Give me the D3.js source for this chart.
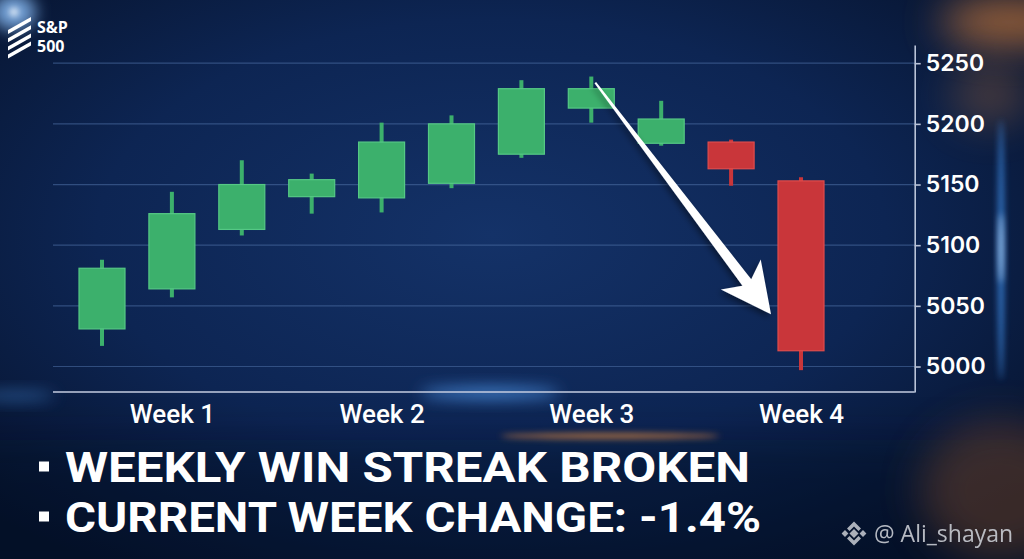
<!DOCTYPE html>
<html>
<head>
<meta charset="utf-8">
<script src="https://cdn.jsdelivr.net/npm/d3@7"></script>
<style>
  html, body { margin: 0; padding: 0; background: #081a3a; overflow: hidden; }
  svg { display: block; }
</style>
</head>
<body>
<svg id="chart"></svg>
<script>
// data
var sessions = [1, 2, 3, 4, 5, 6, 7, 8, 9, 10, 11];
var openVals  = [5031, 5064, 5113, 5140, 5139, 5151, 5175, 5213, 5184, 5185, 5153];
var closeVals = [5081, 5126, 5150, 5154, 5185, 5200, 5229, 5229, 5204, 5163, 5013];
var highVals  = [5088, 5144, 5170, 5159, 5201, 5207, 5236, 5239, 5219, 5187, 5156];
var lowVals   = [5017, 5057, 5108, 5126, 5127, 5147, 5172, 5201, 5182, 5149, 4997];
var weekLabels = ["Week 1", "Week 2", "Week 3", "Week 4"];
var weekSessions = [2, 5, 8, 11];
var yTicks = [5000, 5050, 5100, 5150, 5200, 5250];
var headlines = ["WEEKLY WIN STREAK BROKEN", "CURRENT WEEK CHANGE: -1.4%"];
var arrowFrom = 8;        // session where the arrow starts (its high)
var arrowTipValue = 5043; // price level the arrow points to

var w = 1024, h = 559;
var plotLeft = 53, plotRight = 914.7, plotTop = 45, plotBottom = 392;

var svg = d3.select("#chart").attr("width", w).attr("height", h);
var defs = svg.append("defs");

// background
var bg = defs.append("radialGradient").attr("id", "bg")
    .attr("cx", "48%").attr("cy", "42%").attr("r", "70%");
bg.append("stop").attr("offset", "0%").attr("stop-color", "#143268");
bg.append("stop").attr("offset", "55%").attr("stop-color", "#0d2553");
bg.append("stop").attr("offset", "100%").attr("stop-color", "#06122b");

function blurFilter(id, sd) {
    defs.append("filter").attr("id", id)
        .attr("x", "-150%").attr("y", "-150%").attr("width", "400%").attr("height", "400%")
        .append("feGaussianBlur").attr("stdDeviation", sd);
}
blurFilter("blur3", 3);
blurFilter("blur8", 8);
blurFilter("blur20", 20);
var sh = defs.append("filter").attr("id", "shadow").attr("x", "-20%").attr("y", "-20%").attr("width", "140%").attr("height", "140%");
sh.append("feDropShadow").attr("dx", -2).attr("dy", 3).attr("stdDeviation", 3)
    .attr("flood-color", "#000").attr("flood-opacity", 0.45);

svg.append("rect").attr("width", w).attr("height", h).attr("fill", "url(#bg)");

// darker band under the chart
svg.append("rect").attr("x", -50).attr("y", 440).attr("width", w + 100).attr("height", 160)
    .attr("fill", "#040e24").attr("opacity", 0.35).attr("filter", "url(#blur20)");

// light flares
var glow = svg.append("g");
glow.append("ellipse").attr("cx", 1010).attr("cy", 22).attr("rx", 70).attr("ry", 22)
    .attr("fill", "#d9823c").attr("opacity", 0.75).attr("filter", "url(#blur20)");
glow.append("ellipse").attr("cx", 990).attr("cy", 95).attr("rx", 40).attr("ry", 30)
    .attr("fill", "#b0703e").attr("opacity", 0.35).attr("filter", "url(#blur20)");
glow.append("ellipse").attr("cx", 1000).attr("cy", 490).attr("rx", 80).attr("ry", 70)
    .attr("fill", "#7a4a2a").attr("opacity", 0.45).attr("filter", "url(#blur20)");
glow.append("ellipse").attr("cx", 1001).attr("cy", 250).attr("rx", 3).attr("ry", 130)
    .attr("fill", "#3f8ee8").attr("opacity", 0.8).attr("filter", "url(#blur3)");
glow.append("ellipse").attr("cx", 1001).attr("cy", 248).attr("rx", 2).attr("ry", 35)
    .attr("fill", "#bfe0ff").attr("opacity", 0.9).attr("filter", "url(#blur3)");
glow.append("ellipse").attr("cx", 14).attr("cy", 12).attr("rx", 22).attr("ry", 18)
    .attr("fill", "#8fc4ff").attr("opacity", 0.8).attr("filter", "url(#blur8)");
glow.append("ellipse").attr("cx", 14).attr("cy", 12).attr("rx", 4).attr("ry", 4)
    .attr("fill", "#ffffff").attr("opacity", 0.9).attr("filter", "url(#blur3)");
glow.append("ellipse").attr("cx", 490).attr("cy", 393).attr("rx", 70).attr("ry", 5)
    .attr("fill", "#5aa8ff").attr("opacity", 0.85).attr("filter", "url(#blur8)");
glow.append("ellipse").attr("cx", 610).attr("cy", 436).attr("rx", 110).attr("ry", 3)
    .attr("fill", "#e08a3c").attr("opacity", 0.7).attr("filter", "url(#blur3)");
glow.append("ellipse").attr("cx", 15).attr("cy", 396).attr("rx", 40).attr("ry", 4)
    .attr("fill", "#4a90e0").attr("opacity", 0.6).attr("filter", "url(#blur8)");

// scales
var x = d3.scalePoint().domain(sessions).range([102, 801]);
var y = d3.scaleLinear().domain([4979, 5265]).range([plotBottom, plotTop]);

// grid
svg.append("g").selectAll("line").data(yTicks).enter().append("line")
    .attr("x1", plotLeft).attr("x2", plotRight)
    .attr("y1", function (d) { return y(d); })
    .attr("y2", function (d) { return y(d); })
    .attr("stroke", "#4a6aa0").attr("stroke-opacity", 0.6).attr("stroke-width", 1.2);

// right axis
var yAxis = svg.append("g").attr("transform", "translate(" + plotRight + ",0)")
    .call(d3.axisRight(y).tickValues(yTicks).tickFormat(d3.format("d"))
        .tickSize(6).tickSizeOuter(0).tickPadding(5));
yAxis.select(".domain").attr("stroke", "#b9c3d8").attr("stroke-width", 1.6);
yAxis.selectAll(".tick line").attr("stroke", "#b9c3d8").attr("stroke-width", 1.6);
yAxis.selectAll(".tick text")
    .attr("fill", "#ffffff")
    .attr("font-family", "Inter, 'Open Sans', sans-serif")
    .attr("font-weight", 600)
    .attr("font-size", "23px");

// bottom axis line
svg.append("line").attr("x1", plotLeft).attr("x2", plotRight).attr("y1", plotBottom).attr("y2", plotBottom)
    .attr("stroke", "#c4cde0").attr("stroke-width", 1.6);

var xAxis = svg.append("g").attr("transform", "translate(0," + plotBottom + ")")
    .call(d3.axisBottom(x).tickValues(weekSessions).tickSize(0).tickPadding(13)
        .tickFormat(function (d, i) { return weekLabels[i]; }));
xAxis.select(".domain").remove();
xAxis.selectAll(".tick text")
    .attr("fill", "#ffffff")
    .attr("font-family", "Roboto, sans-serif")
    .attr("font-weight", 500)
    .attr("font-size", "26px");

// candles
var candles = sessions.map(function (s, i) {
    return { s: s, o: openVals[i], c: closeVals[i], hi: highVals[i], lo: lowVals[i] };
});
var bodyW = 46, wickW = 4;
var green = "#3cb06c", greenEdge = "#55c885", red = "#c9363a", redEdge = "#e04c4c";

var cg = svg.append("g").selectAll("g.candle").data(candles).enter().append("g").attr("class", "candle");
cg.append("rect")
    .attr("x", function (d) { return x(d.s) - wickW / 2; })
    .attr("y", function (d) { return y(d.hi); })
    .attr("width", wickW)
    .attr("height", function (d) { return y(d.lo) - y(d.hi); })
    .attr("fill", function (d) { return d.c >= d.o ? green : red; });
cg.append("rect")
    .attr("x", function (d) { return x(d.s) - bodyW / 2; })
    .attr("y", function (d) { return y(Math.max(d.o, d.c)); })
    .attr("width", bodyW)
    .attr("height", function (d) { return Math.abs(y(d.o) - y(d.c)); })
    .attr("fill", function (d) { return d.c >= d.o ? green : red; })
    .attr("stroke", function (d) { return d.c >= d.o ? greenEdge : redEdge; })
    .attr("stroke-width", 1.2);

// arrow
var p0 = [x(arrowFrom) + 4, y(highVals[arrowFrom - 1]) + 6];
var p1 = [x(sessions[sessions.length - 1]) - bodyW / 2 - 7, y(arrowTipValue)];
var dx = p1[0] - p0[0], dy = p1[1] - p0[1], L = Math.sqrt(dx * dx + dy * dy);
var u = [dx / L, dy / L], n = [-u[1], u[0]];
function pt(a, b) { return [p0[0] + u[0] * a + n[0] * b, p0[1] + u[1] * a + n[1] * b]; }
var arrowPts = [pt(0, -1), pt(L - 40, -5.5), pt(L - 50, -25), pt(L, 0),
                pt(L - 50, 25), pt(L - 40, 5.5), pt(0, 1)];
svg.append("path")
    .attr("d", d3.line()(arrowPts) + "Z")
    .attr("fill", "#ffffff")
    .attr("filter", "url(#shadow)");

// S&P 500 logo
var logo = svg.append("g");
[0, 1, 2, 3].forEach(function (k) {
    var yy = 22 + k * 8.2;
    logo.append("path")
        .attr("d", "M" + 8 + "," + (yy + 8) + " L" + 31 + "," + (yy - 5) + " L" + 31 + "," + (yy - 1) + " L" + 8 + "," + (yy + 12) + "Z")
        .attr("fill", "#ffffff");
});
logo.append("text").text("S&P").attr("x", 37).attr("y", 33)
    .attr("font-family", "'Open Sans', sans-serif").attr("font-weight", 700).attr("font-size", "16px").attr("fill", "#fff");
logo.append("text").text("500").attr("x", 37).attr("y", 52)
    .attr("font-family", "'Open Sans', sans-serif").attr("font-weight", 700).attr("font-size", "16px").attr("fill", "#fff");

// headline bullets
var lineBase = [481.5, 531.5];
var lineWidth = [685, 696];
headlines.forEach(function (t, i) {
    svg.append("rect").attr("x", 39).attr("y", lineBase[i] - 20).attr("width", 10).attr("height", 10).attr("fill", "#fff");
    svg.append("text").text(t)
        .attr("x", 65).attr("y", lineBase[i])
        .attr("textLength", lineWidth[i]).attr("lengthAdjust", "spacingAndGlyphs")
        .attr("font-family", "Roboto, sans-serif").attr("font-weight", 700).attr("font-size", "42px")
        .attr("fill", "#ffffff");
});

// watermark
var wm = svg.append("g").attr("transform", "translate(854,533.5)").attr("fill", "#c9ccd3").attr("opacity", 0.85);
[[0, 0, 3.2], [-9, 0, 2.4], [9, 0, 2.4]].forEach(function (d) {
    wm.append("rect").attr("x", d[0] - d[2]).attr("y", d[1] - d[2]).attr("width", d[2] * 2).attr("height", d[2] * 2)
        .attr("transform", "rotate(45," + d[0] + "," + d[1] + ")");
});
wm.append("path").attr("d", "M-7,-5 L0,-12 L7,-5 L4.5,-2.5 L0,-7 L-4.5,-2.5Z");
wm.append("path").attr("d", "M-7,5 L0,12 L7,5 L4.5,2.5 L0,7 L-4.5,2.5Z");
svg.append("text").text("@ Ali_shayan").attr("x", 874).attr("y", 542)
    .attr("font-family", "'Open Sans', sans-serif").attr("font-size", "23px").attr("fill", "#c9ccd3").attr("opacity", 0.9);
</script>
</body>
</html>
